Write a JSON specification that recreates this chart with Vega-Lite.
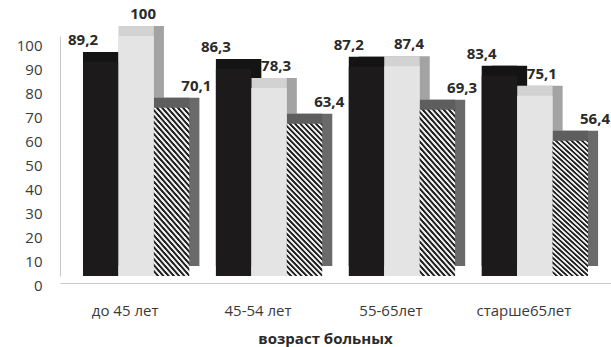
{
  "$schema": "https://vega.github.io/schema/vega-lite/v6.json",
  "autosize": {"type": "none"},
  "width": 551,
  "height": 240,
  "padding": {"left": 60, "top": 36, "right": 0, "bottom": 71},
  "background": "white",
  "config": {
    "view": {"stroke": null},
    "font": "Open Sans",
    "locale": {"number": {"decimal": ",", "thousands": " ", "grouping": [3], "currency": ["", ""]}}
  },
  "data": {
    "values": [
      {"age": "до 45 лет", "series": "s1", "value": 89.2},
      {"age": "до 45 лет", "series": "s2", "value": 100},
      {"age": "до 45 лет", "series": "s3", "value": 70.1},
      {"age": "45-54 лет", "series": "s1", "value": 86.3},
      {"age": "45-54 лет", "series": "s2", "value": 78.3},
      {"age": "45-54 лет", "series": "s3", "value": 63.4},
      {"age": "55-65лет", "series": "s1", "value": 87.2},
      {"age": "55-65лет", "series": "s2", "value": 87.4},
      {"age": "55-65лет", "series": "s3", "value": 69.3},
      {"age": "старше65лет", "series": "s1", "value": 83.4},
      {"age": "старше65лет", "series": "s2", "value": 75.1},
      {"age": "старше65лет", "series": "s3", "value": 56.4}
    ]
  },
  "encoding": {
    "x": {
      "field": "age", "type": "nominal", "sort": null,
      "scale": {"paddingInner": 0.2, "paddingOuter": 0.173},
      "axis": {
        "title": "возраст больных", "labelAngle": 0, "ticks": false,
        "domainColor": "#c8c8c8", "offset": 7, "labelPadding": 20, "labelOffset": -11,
        "labelFontSize": 15, "labelColor": "#3a3a3a",
        "titleFontSize": 15, "titleFontWeight": "bold", "titleColor": "#2a2a2a",
        "titlePadding": 13, "titleX": 265
      }
    },
    "xOffset": {
      "field": "series", "type": "nominal",
      "scale": {"domain": ["s1", "s2", "s3"], "paddingInner": 0, "paddingOuter": 0}
    },
    "y": {
      "field": "value", "type": "quantitative",
      "scale": {"domain": [0, 100], "nice": false},
      "axis": {
        "title": null, "values": [0, 10, 20, 30, 40, 50, 60, 70, 80, 90, 100],
        "grid": false, "ticks": false, "domainColor": "#c8c8c8",
        "labelPadding": 18, "labelOffset": 9, "labelFontSize": 15, "labelColor": "#3a3a3a"
      }
    }
  },
  "resolve": {"scale": {"xOffset": "independent"}},
  "layer": [
    {
      "transform": [{"filter": "datum.series !== 's3'"}],
      "mark": {"type": "bar", "yOffset": -10},
      "encoding": {
        "xOffset": {
          "field": "series", "type": "nominal",
          "scale": {"domain": ["s1", "s2", "s3"], "paddingInner": 0, "paddingOuter": 0, "range": [10, 116.4]}
        },
        "fill": {"condition": {"test": "datum.series === 's1'", "value": "#141414"}, "value": "#a3a3a3"}
      }
    },
    {
      "transform": [{"filter": "datum.series === 's3'"}],
      "mark": {"type": "bar", "yOffset": -10, "fill": "#6a6a6a"},
      "encoding": {
        "xOffset": {
          "field": "series", "type": "nominal",
          "scale": {"domain": ["s1", "s2", "s3"], "paddingInner": 0, "paddingOuter": 0, "range": [10, 116.4]}
        }
      }
    },
    {
      "transform": [{"filter": "datum.series !== 's3'"}],
      "mark": {"type": "bar", "yOffset": -10},
      "encoding": {"fill": {"condition": {"test": "datum.series === 's1'", "value": "#141414"}, "value": "#d2d2d2"}}
    },
    {
      "transform": [{"filter": "datum.series === 's3'"}],
      "mark": {"type": "bar", "yOffset": -10, "fill": "#5e5e5e"}
    },
    {
      "transform": [{"filter": "datum.series !== 's3'"}],
      "mark": {"type": "bar"},
      "encoding": {"fill": {"condition": {"test": "datum.series === 's1'", "value": "#1c1a1a"}, "value": "#e4e4e4"}}
    },
    {
      "transform": [{"filter": "datum.series === 's3'"}],
      "mark": {
        "type": "bar",
        "fill": {
          "gradient": "linear", "x1": 1, "y1": 0, "x2": 0.719, "y2": 1.1725,
          "stops": [
            {"offset": 0, "color": "#222"}, {"offset": 0.01, "color": "#222"}, {"offset": 0.01429, "color": "#eee"}, {"offset": 0.02429, "color": "#eee"},
            {"offset": 0.02857, "color": "#222"}, {"offset": 0.03857, "color": "#222"}, {"offset": 0.04286, "color": "#eee"}, {"offset": 0.05286, "color": "#eee"},
            {"offset": 0.05714, "color": "#222"}, {"offset": 0.06714, "color": "#222"}, {"offset": 0.07143, "color": "#eee"}, {"offset": 0.08143, "color": "#eee"},
            {"offset": 0.08571, "color": "#222"}, {"offset": 0.09571, "color": "#222"}, {"offset": 0.1, "color": "#eee"}, {"offset": 0.11, "color": "#eee"},
            {"offset": 0.11429, "color": "#222"}, {"offset": 0.12429, "color": "#222"}, {"offset": 0.12857, "color": "#eee"}, {"offset": 0.13857, "color": "#eee"},
            {"offset": 0.14286, "color": "#222"}, {"offset": 0.15286, "color": "#222"}, {"offset": 0.15714, "color": "#eee"}, {"offset": 0.16714, "color": "#eee"},
            {"offset": 0.17143, "color": "#222"}, {"offset": 0.18143, "color": "#222"}, {"offset": 0.18571, "color": "#eee"}, {"offset": 0.19571, "color": "#eee"},
            {"offset": 0.2, "color": "#222"}, {"offset": 0.21, "color": "#222"}, {"offset": 0.21429, "color": "#eee"}, {"offset": 0.22429, "color": "#eee"},
            {"offset": 0.22857, "color": "#222"}, {"offset": 0.23857, "color": "#222"}, {"offset": 0.24286, "color": "#eee"}, {"offset": 0.25286, "color": "#eee"},
            {"offset": 0.25714, "color": "#222"}, {"offset": 0.26714, "color": "#222"}, {"offset": 0.27143, "color": "#eee"}, {"offset": 0.28143, "color": "#eee"},
            {"offset": 0.28571, "color": "#222"}, {"offset": 0.29571, "color": "#222"}, {"offset": 0.3, "color": "#eee"}, {"offset": 0.31, "color": "#eee"},
            {"offset": 0.31429, "color": "#222"}, {"offset": 0.32429, "color": "#222"}, {"offset": 0.32857, "color": "#eee"}, {"offset": 0.33857, "color": "#eee"},
            {"offset": 0.34286, "color": "#222"}, {"offset": 0.35286, "color": "#222"}, {"offset": 0.35714, "color": "#eee"}, {"offset": 0.36714, "color": "#eee"},
            {"offset": 0.37143, "color": "#222"}, {"offset": 0.38143, "color": "#222"}, {"offset": 0.38571, "color": "#eee"}, {"offset": 0.39571, "color": "#eee"},
            {"offset": 0.4, "color": "#222"}, {"offset": 0.41, "color": "#222"}, {"offset": 0.41429, "color": "#eee"}, {"offset": 0.42429, "color": "#eee"},
            {"offset": 0.42857, "color": "#222"}, {"offset": 0.43857, "color": "#222"}, {"offset": 0.44286, "color": "#eee"}, {"offset": 0.45286, "color": "#eee"},
            {"offset": 0.45714, "color": "#222"}, {"offset": 0.46714, "color": "#222"}, {"offset": 0.47143, "color": "#eee"}, {"offset": 0.48143, "color": "#eee"},
            {"offset": 0.48571, "color": "#222"}, {"offset": 0.49571, "color": "#222"}, {"offset": 0.5, "color": "#eee"}, {"offset": 0.51, "color": "#eee"},
            {"offset": 0.51429, "color": "#222"}, {"offset": 0.52429, "color": "#222"}, {"offset": 0.52857, "color": "#eee"}, {"offset": 0.53857, "color": "#eee"},
            {"offset": 0.54286, "color": "#222"}, {"offset": 0.55286, "color": "#222"}, {"offset": 0.55714, "color": "#eee"}, {"offset": 0.56714, "color": "#eee"},
            {"offset": 0.57143, "color": "#222"}, {"offset": 0.58143, "color": "#222"}, {"offset": 0.58571, "color": "#eee"}, {"offset": 0.59571, "color": "#eee"},
            {"offset": 0.6, "color": "#222"}, {"offset": 0.61, "color": "#222"}, {"offset": 0.61429, "color": "#eee"}, {"offset": 0.62429, "color": "#eee"},
            {"offset": 0.62857, "color": "#222"}, {"offset": 0.63857, "color": "#222"}, {"offset": 0.64286, "color": "#eee"}, {"offset": 0.65286, "color": "#eee"},
            {"offset": 0.65714, "color": "#222"}, {"offset": 0.66714, "color": "#222"}, {"offset": 0.67143, "color": "#eee"}, {"offset": 0.68143, "color": "#eee"},
            {"offset": 0.68571, "color": "#222"}, {"offset": 0.69571, "color": "#222"}, {"offset": 0.7, "color": "#eee"}, {"offset": 0.71, "color": "#eee"},
            {"offset": 0.71429, "color": "#222"}, {"offset": 0.72429, "color": "#222"}, {"offset": 0.72857, "color": "#eee"}, {"offset": 0.73857, "color": "#eee"},
            {"offset": 0.74286, "color": "#222"}, {"offset": 0.75286, "color": "#222"}, {"offset": 0.75714, "color": "#eee"}, {"offset": 0.76714, "color": "#eee"},
            {"offset": 0.77143, "color": "#222"}, {"offset": 0.78143, "color": "#222"}, {"offset": 0.78571, "color": "#eee"}, {"offset": 0.79571, "color": "#eee"},
            {"offset": 0.8, "color": "#222"}, {"offset": 0.81, "color": "#222"}, {"offset": 0.81429, "color": "#eee"}, {"offset": 0.82429, "color": "#eee"},
            {"offset": 0.82857, "color": "#222"}, {"offset": 0.83857, "color": "#222"}, {"offset": 0.84286, "color": "#eee"}, {"offset": 0.85286, "color": "#eee"},
            {"offset": 0.85714, "color": "#222"}, {"offset": 0.86714, "color": "#222"}, {"offset": 0.87143, "color": "#eee"}, {"offset": 0.88143, "color": "#eee"},
            {"offset": 0.88571, "color": "#222"}, {"offset": 0.89571, "color": "#222"}, {"offset": 0.9, "color": "#eee"}, {"offset": 0.91, "color": "#eee"},
            {"offset": 0.91429, "color": "#222"}, {"offset": 0.92429, "color": "#222"}, {"offset": 0.92857, "color": "#eee"}, {"offset": 0.93857, "color": "#eee"},
            {"offset": 0.94286, "color": "#222"}, {"offset": 0.95286, "color": "#222"}, {"offset": 0.95714, "color": "#eee"}, {"offset": 0.96714, "color": "#eee"},
            {"offset": 0.97143, "color": "#222"}, {"offset": 0.98143, "color": "#222"}, {"offset": 0.98571, "color": "#eee"}, {"offset": 0.99571, "color": "#eee"},
            {"offset": 1, "color": "#222"}
          ]
        }
      }
    },
    {
      "transform": [{"filter": "datum.series === 's1'"}],
      "mark": {"type": "text", "baseline": "bottom", "dy": -14, "fontSize": 15, "fontWeight": "bold", "color": "#2a2a2a"},
      "encoding": {"text": {"field": "value", "type": "quantitative", "format": ".1~f"}}
    },
    {
      "transform": [{"filter": "datum.series !== 's1'"}],
      "mark": {"type": "text", "baseline": "bottom", "dy": -14, "dx": 7, "fontSize": 15, "fontWeight": "bold", "color": "#2a2a2a"},
      "encoding": {"text": {"field": "value", "type": "quantitative", "format": ".1~f"}}
    }
  ]
}
